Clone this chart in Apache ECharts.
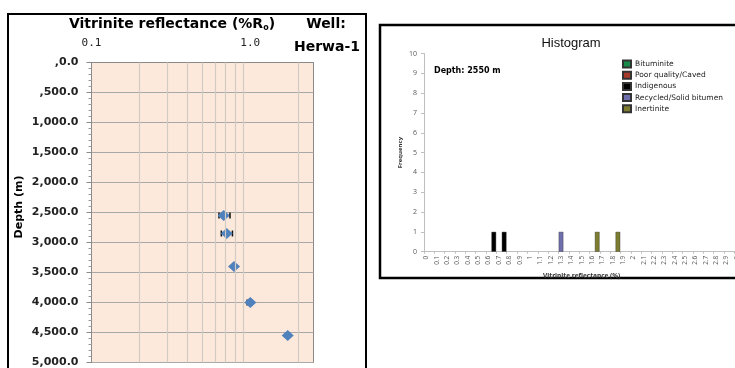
<!DOCTYPE html>
<html>
<head>
<meta charset="utf-8">
<script src="https://cdn.jsdelivr.net/npm/echarts@6/dist/echarts.min.js"></script>
<style>
  html, body { margin: 0; padding: 0; background: #fff; overflow: hidden; }
  #chart { width: 780px; height: 368px; }
</style>
</head>
<body>
<div id="chart"></div>
<script>
// --- depth profile (left panel) ---
const depths = [2550, 2850, 3400, 4000, 4550]
const roMean = [0.68, 0.71, 0.79, 1.0, 1.72]
const roLow = [0.635, 0.657, null, 0.955, null]
const roHigh = [0.745, 0.772, null, 1.02, null]
const depthLabels = [',0.0', ',500.0', '1,000.0', '1,500.0', '2,000.0', '2,500.0',
  '3,000.0', '3,500.0', '4,000.0', '4,500.0', '5,000.0']
const roMinorGrid = [0.2, 0.3, 0.4, 0.5, 0.6, 0.7, 0.8, 0.9, 2]

// --- histogram (right panel) ---
const histTypes = ['Bituminite', 'Poor quality/Caved', 'Indigenous', 'Recycled/Solid bitumen', 'Inertinite']
const histColors = ['#1a8a48', '#a83a2c', '#000000', '#6f6fae', '#7d7d30']
const bituminiteRo = [], bituminiteCount = []
const poorRo = [], poorCount = []
const indigenousRo = ['0.65', '0.75'], indigenousCount = [1, 1]
const recycledRo = ['1.30'], recycledCount = [1]
const inertiniteRo = ['1.65', '1.85'], inertiniteCount = [1, 1]
const histSample = 'Depth: 2550 m'

// bins every 0.05, labelled every 0.1
const binNames = []
for (let i = 0; i <= 60; i++) binNames.push((i * 0.05).toFixed(2))

const histData = [
  [bituminiteRo, bituminiteCount],
  [poorRo, poorCount],
  [indigenousRo, indigenousCount],
  [recycledRo, recycledCount],
  [inertiniteRo, inertiniteCount],
]

const chart = echarts.init(document.getElementById('chart'))

const comic = 'DejaVu Sans'
const errIdx = depths.map((d, i) => i).filter(i => roLow[i] != null)

chart.setOption({
  animation: false,
  textStyle: { fontFamily: comic },
  grid: [
    { left: 91.5, top: 62.5, width: 222, height: 300, show: true,
      backgroundColor: '#fce9db', borderColor: '#8a8a8a', borderWidth: 1 },
    { left: 424, top: 53.5, width: 315.4, height: 198.2 },
  ],
  xAxis: [
    {
      gridIndex: 0, type: 'log', logBase: 10, min: 0.1, max: 2.5, position: 'top',
      axisLine: { show: true, lineStyle: { color: '#8a8a8a' } },
      axisTick: { show: false },
      splitLine: { show: false },
      axisLabel: {
        margin: 14, color: '#222', fontFamily: 'DejaVu Sans Mono', fontSize: 11,
        showMaxLabel: false,
        formatter: v => {
          const l = Math.log10(v)
          return Math.abs(l - Math.round(l)) < 1e-6 ? v.toFixed(1) : ''
        },
      },
    },
    {
      gridIndex: 1, type: 'category', data: binNames, boundaryGap: true,
      name: 'Vitrinite reflectance (%)', nameLocation: 'middle', nameGap: 17,
      nameTextStyle: { fontFamily: 'Open Sans', fontWeight: 'bold', fontSize: 6.5, color: '#333' },
      axisLine: { lineStyle: { color: '#bfbfbf' } },
      axisTick: { show: true, interval: 1, length: 2, lineStyle: { color: '#bfbfbf' } },
      axisLabel: {
        interval: 1, rotate: 90, margin: 4, fontSize: 6.5, color: '#595959', fontFamily: 'Open Sans',
        formatter: v => String(parseFloat(v)),
      },
    },
  ],
  yAxis: [
    {
      gridIndex: 0, type: 'value', inverse: true, min: 0, max: 5000, interval: 500,
      axisLine: { show: true, lineStyle: { color: '#8a8a8a' } },
      axisTick: { show: true, length: 5, lineStyle: { color: '#8a8a8a' } },
      minorTick: { show: true, splitNumber: 5, length: 3, lineStyle: { color: '#9a9a9a' } },
      splitLine: { show: true, lineStyle: { color: '#a8a8a8', width: 1 } },
      axisLabel: {
        margin: 13, color: '#222', fontFamily: 'DejaVu Sans', fontWeight: 'bold', fontSize: 11,
        formatter: v => depthLabels[Math.round(v / 500)],
      },
    },
    {
      gridIndex: 1, type: 'value', min: 0, max: 10, interval: 1,
      name: 'Frequency', nameLocation: 'middle', nameGap: 21, nameRotate: 90,
      nameTextStyle: { fontFamily: 'Open Sans', fontWeight: 'bold', fontSize: 6, color: '#333' },
      axisLine: { show: true, lineStyle: { color: '#bfbfbf' } },
      axisTick: { show: true, length: 3, lineStyle: { color: '#bfbfbf' } },
      splitLine: { show: false },
      axisLabel: { margin: 7, fontSize: 7, color: '#595959', fontFamily: 'Open Sans' },
    },
  ],
  legend: {
    orient: 'vertical', left: 622, top: 59.5, padding: 0, itemWidth: 8, itemHeight: 7, itemGap: 2.2,
    icon: 'rect', data: histTypes,
    textStyle: { fontFamily: comic, fontSize: 7.5, color: '#222', lineHeight: 8, padding: [0, 0, 0, -1] },
  },
  series: [
    {
      type: 'line', xAxisIndex: 0, yAxisIndex: 0, data: [], z: 1, silent: true,
      markLine: {
        silent: true, symbol: ['none', 'none'], label: { show: false },
        lineStyle: { color: '#d2cbc4', type: 'solid', width: 1.2 },
        data: roMinorGrid.map(v => ({ xAxis: v })),
      },
    },
    {
      type: 'custom', xAxisIndex: 0, yAxisIndex: 0, z: 3,
      data: errIdx.map(i => [roLow[i], roHigh[i], depths[i]]),
      encode: { x: [0, 1], y: 2 },
      renderItem: (params, api) => {
        const a = api.coord([api.value(0), api.value(2)])
        const b = api.coord([api.value(1), api.value(2)])
        const st = { stroke: '#111', lineWidth: 1.5 }
        return {
          type: 'group',
          children: [
            { type: 'line', shape: { x1: a[0], y1: a[1], x2: b[0], y2: b[1] }, style: st },
            { type: 'line', shape: { x1: a[0], y1: a[1] - 3, x2: a[0], y2: a[1] + 3 }, style: st },
            { type: 'line', shape: { x1: b[0], y1: b[1] - 3, x2: b[0], y2: b[1] + 3 }, style: st },
          ],
        }
      },
    },
    {
      type: 'scatter', xAxisIndex: 0, yAxisIndex: 0, z: 4,
      symbol: 'diamond', symbolSize: [12, 11],
      itemStyle: { color: '#4f81bd', opacity: 1 },
      data: depths.map((d, i) => [roMean[i], d]),
    },
    ...histTypes.map((name, k) => ({
      name, type: 'bar', xAxisIndex: 1, yAxisIndex: 1,
      barWidth: 4.6, barGap: '-100%',
      itemStyle: { color: histColors[k], borderColor: '#333', borderWidth: 0.4 },
      data: histData[k][0].map((b, j) => [b, histData[k][1][j]]),
    })),
  ],
  graphic: [
    { type: 'rect', shape: { x: 8, y: 14, width: 358, height: 400 },
      style: { fill: 'none', stroke: '#000', lineWidth: 2 } },
    { type: 'rect', shape: { x: 380, y: 25, width: 420, height: 253 },
      style: { fill: 'none', stroke: '#000', lineWidth: 2.5 } },
    { type: 'text', x: 172, y: 24,
      style: {
        text: '{a|Vitrinite reflectance (%R}{s|o}{a|)}', align: 'center', verticalAlign: 'middle',
        rich: {
          a: { fontFamily: comic, fontWeight: 'bold', fontSize: 14, fill: '#000' },
          s: { fontFamily: comic, fontWeight: 'bold', fontSize: 8, fill: '#000', padding: [8, 0, 0, 0] },
        },
      } },
    { type: 'text', x: 326, y: 24,
      style: { text: 'Well:', align: 'center', verticalAlign: 'middle',
        font: 'bold 14px "DejaVu Sans"', fill: '#000' } },
    { type: 'text', x: 327, y: 47,
      style: { text: 'Herwa-1', align: 'center', verticalAlign: 'middle',
        font: 'bold 14px "DejaVu Sans"', fill: '#000' } },
    { type: 'text', x: 19, y: 207, rotation: Math.PI / 2,
      style: { text: 'Depth (m)', align: 'center', verticalAlign: 'middle',
        font: 'bold 11px "DejaVu Sans"', fill: '#000' } },
    { type: 'text', x: 571, y: 43,
      style: { text: 'Histogram', align: 'center', verticalAlign: 'middle',
        font: '13px "Liberation Sans"', fill: '#111' } },
    { type: 'text', x: 434, y: 71,
      style: { text: histSample, align: 'left', verticalAlign: 'middle',
        font: 'bold 8px "DejaVu Sans"', fill: '#000' } },
  ],
})
</script>
</body>
</html>
